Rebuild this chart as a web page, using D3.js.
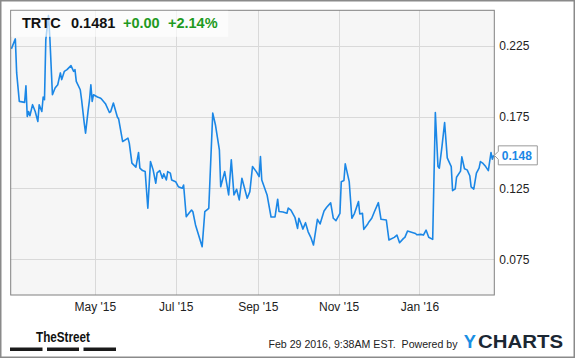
<!DOCTYPE html>
<html><head><meta charset="utf-8">
<script src="https://cdn.jsdelivr.net/npm/d3@7"></script>
<style>html,body{margin:0;padding:0;background:#fff;}svg{display:block;font-family:Arial,'Liberation Sans',sans-serif;}</style>
</head><body><svg id="c" width="575" height="358"></svg>
<script>
const symbol = "TRTC";
const lastPrice = "0.1481";
const change = "+0.00";
const changePct = "+2.14%";
const lastLabel = "0.148";
const yTicks = [0.075, 0.125, 0.175, 0.225];
const xTickDates = ["2015-05-01","2015-07-01","2015-09-01","2015-11-01","2016-01-01"];
const xTickLabels = ["May '15","Jul '15","Sep '15","Nov '15","Jan '16"];
const dates = [
"2015-02-27","2015-03-02","2015-03-03","2015-03-05","2015-03-09","2015-03-10","2015-03-11","2015-03-12","2015-03-13","2015-03-15",
"2015-03-17","2015-03-19","2015-03-20","2015-03-22","2015-03-23","2015-03-24","2015-03-25","2015-03-27","2015-03-28","2015-03-30",
"2015-04-01","2015-04-03","2015-04-05","2015-04-06","2015-04-08","2015-04-10","2015-04-13","2015-04-15","2015-04-16","2015-04-17",
"2015-04-20","2015-04-21","2015-04-23","2015-04-24","2015-04-26","2015-04-27","2015-04-28","2015-04-29","2015-04-30","2015-05-03",
"2015-05-05","2015-05-06","2015-05-09","2015-05-12","2015-05-13","2015-05-15","2015-05-18","2015-05-19","2015-05-22","2015-05-24",
"2015-05-26","2015-05-27","2015-05-29","2015-06-01","2015-06-03","2015-06-04","2015-06-06","2015-06-08","2015-06-09","2015-06-10",
"2015-06-12","2015-06-14","2015-06-16","2015-06-17","2015-06-19","2015-06-21","2015-06-22","2015-06-24","2015-06-25","2015-06-27",
"2015-06-28","2015-07-01","2015-07-03","2015-07-06","2015-07-07","2015-07-09","2015-07-11","2015-07-13","2015-07-14","2015-07-16",
"2015-07-21","2015-07-23","2015-07-26","2015-07-29","2015-07-31","2015-08-03","2015-08-04","2015-08-07","2015-08-10","2015-08-12",
"2015-08-14","2015-08-16","2015-08-18","2015-08-20","2015-08-24","2015-08-26","2015-08-28","2015-08-31","2015-09-02","2015-09-03",
"2015-09-04","2015-09-08","2015-09-11","2015-09-14","2015-09-16","2015-09-17","2015-09-20","2015-09-23","2015-09-24","2015-09-26",
"2015-09-29","2015-10-01","2015-10-02","2015-10-04","2015-10-05","2015-10-07","2015-10-09","2015-10-11","2015-10-13","2015-10-16",
"2015-10-18","2015-10-21","2015-10-23","2015-10-26","2015-10-28","2015-10-30","2015-11-02","2015-11-03","2015-11-05","2015-11-06",
"2015-11-09","2015-11-11","2015-11-13","2015-11-16","2015-11-17","2015-11-19","2015-11-20","2015-11-23","2015-11-24","2015-11-26",
"2015-11-28","2015-12-01","2015-12-03","2015-12-07","2015-12-09","2015-12-13","2015-12-15","2015-12-17","2015-12-20","2015-12-21",
"2015-12-23","2015-12-26","2015-12-29","2015-12-30","2016-01-02","2016-01-04","2016-01-06","2016-01-08","2016-01-11","2016-01-13",
"2016-01-15","2016-01-16","2016-01-18","2016-01-20","2016-01-22","2016-01-23","2016-01-25","2016-01-26","2016-01-28","2016-01-29",
"2016-02-01","2016-02-02","2016-02-04","2016-02-06","2016-02-08","2016-02-09","2016-02-11","2016-02-13","2016-02-15","2016-02-16",
"2016-02-18","2016-02-20","2016-02-22","2016-02-24","2016-02-25","2016-02-26"];
const prices = [
0.2229,0.2299,0.2060,0.1860,0.1853,0.1970,0.1754,0.1789,0.1759,0.1837,
0.1789,0.1719,0.1837,0.1789,0.1891,0.1872,0.2294,0.2463,0.2318,0.1907,
0.1954,0.1977,0.2060,0.2013,0.2071,0.2083,0.2111,0.2071,0.2083,0.2001,
0.1942,0.1872,0.1708,0.1637,0.1801,0.1872,0.1977,0.1860,0.1907,0.1891,
0.1884,0.1877,0.1844,0.1782,0.1789,0.1849,0.1750,0.1736,0.1578,0.1590,
0.1602,0.1567,0.1426,0.1398,0.1501,0.1391,0.1374,0.1367,0.1238,0.1109,
0.1437,0.1379,0.1285,0.1358,0.1374,0.1320,0.1351,0.1308,0.1367,0.1356,
0.1308,0.1296,0.1261,0.1250,0.1273,0.1050,0.1074,0.1097,0.1085,0.0992,
0.0839,0.1085,0.1109,0.1778,0.1696,0.1520,0.1261,0.1367,0.1203,0.1449,
0.1203,0.1243,0.1168,0.1320,0.1180,0.1226,0.1402,0.1365,0.1332,0.1473,
0.1308,0.1203,0.1048,0.1048,0.1173,0.1087,0.1083,0.1074,0.1111,0.1097,
0.1046,0.0968,0.1039,0.0992,0.0963,0.1008,0.0944,0.0905,0.0851,0.1032,
0.0999,0.1090,0.1116,0.1147,0.1039,0.1022,0.1074,0.1296,0.1304,0.1421,
0.1296,0.1039,0.1074,0.1156,0.1069,0.1074,0.0961,0.0999,0.1015,0.1039,
0.1085,0.1149,0.1032,0.1027,0.0886,0.0905,0.0921,0.0867,0.0898,0.0905,
0.0949,0.0941,0.0932,0.0923,0.0926,0.0921,0.0956,0.0906,0.0891,0.1782,
0.1402,0.1391,0.1543,0.1712,0.1463,0.1442,0.1402,0.1233,0.1246,0.1327,
0.1370,0.1470,0.1387,0.1379,0.1338,0.1259,0.1244,0.1356,0.1391,0.1437,
0.1424,0.1402,0.1374,0.1501,0.1454,0.1481];

const parse = d3.timeParse("%Y-%m-%d");
const data = dates.map((d,i)=>({date:parse(d), v:prices[i]}));

const svg = d3.select("#c");
const L = 10.7, T = 10.3, R = 494.3, B = 295;
const x = d3.scaleTime().domain([new Date(2015,1,26,12), new Date(2016,1,26,12)]).range([L, R]);
const y = d3.scaleLinear().domain([0.05, 0.25]).range([B, T]);

// outer frame
svg.append("rect").attr("x",0.75).attr("y",0.75).attr("width",573.5).attr("height",356.5)
  .attr("fill","#fff").attr("stroke","#8a8a8a").attr("stroke-width",1.5);

// plot background
svg.append("rect").attr("x",L).attr("y",T).attr("width",R-L).attr("height",B-T).attr("fill","#f6f6f6");

// grid
const g = svg.append("g");
g.selectAll(".hg").data(yTicks).join("line")
  .attr("x1",L).attr("x2",R).attr("y1",d=>Math.round(y(d))+0.5).attr("y2",d=>Math.round(y(d))+0.5)
  .attr("stroke","#d9d9d9").attr("stroke-width",1);
g.selectAll(".vg").data(xTickDates).join("line")
  .attr("y1",T).attr("y2",B).attr("x1",d=>Math.round(x(parse(d)))+0.5).attr("x2",d=>Math.round(x(parse(d)))+0.5)
  .attr("stroke","#d9d9d9").attr("stroke-width",1);

// line
svg.append("path").datum(data)
  .attr("d", d3.line().x(d=>x(d.date)).y(d=>y(d.v)))
  .attr("fill","none").attr("stroke","#1b87e6").attr("stroke-width",1.6).attr("stroke-linejoin","round");

// plot border
svg.append("rect").attr("x",L).attr("y",T).attr("width",R-L).attr("height",B-T)
  .attr("fill","none").attr("stroke","#808080").attr("stroke-width",1);

// y axis (right)
const yAxis = d3.axisRight(y).tickValues(yTicks).tickSize(0).tickPadding(5).tickFormat(d3.format(".3f"));
const ya = svg.append("g").attr("transform",`translate(${R},0)`).call(yAxis);
ya.select(".domain").remove();
ya.selectAll("text").attr("font-size","12px").attr("fill","#222").attr("font-family","Arial,'Liberation Sans',sans-serif");

// x axis
const xAxis = d3.axisBottom(x).tickValues(xTickDates.map(parse)).tickSize(0).tickPadding(7)
  .tickFormat((d,i)=>xTickLabels[i]);
const xa = svg.append("g").attr("transform",`translate(0,${B})`).call(xAxis);
xa.select(".domain").remove();
xa.selectAll("text").attr("font-size","12px").attr("fill","#222").attr("font-family","Arial,'Liberation Sans',sans-serif");

// header box
svg.append("rect").attr("x",L+0.5).attr("y",T+0.5).attr("width",217).attr("height",26)
  .attr("fill","#fff").attr("opacity",0.65);
const hdr = svg.append("g").attr("font-size","14.5px").attr("font-weight","bold");
hdr.append("text").attr("x",22).attr("y",28.3).attr("fill","#111").text(symbol);
hdr.append("text").attr("x",71).attr("y",28.3).attr("fill","#111").text(lastPrice);
hdr.append("text").attr("x",123).attr("y",28.3).attr("fill","#1f9a1f").text(change);
hdr.append("text").attr("x",168).attr("y",28.3).attr("fill","#1f9a1f").text(changePct);

// last value label
const last = data[data.length-1];
const ly = y(last.v);
const bx0 = R+4, bx1 = R+43, bh = 9.5;
svg.append("path")
  .attr("d",`M${R},${ly} L${bx0},${ly-4} L${bx0},${ly-bh} L${bx1},${ly-bh} L${bx1},${ly+bh} L${bx0},${ly+bh} L${bx0},${ly+4} Z`)
  .attr("fill","#fff").attr("stroke","#999").attr("stroke-width",1);
svg.append("text").attr("x",bx0+3.5).attr("y",ly+4.5).attr("font-size","12px").attr("font-weight","bold")
  .attr("fill","#1b87e6").text(lastLabel);

// footer
svg.append("text").attr("x",36).attr("y",341.5).attr("font-size","15px").attr("font-weight","bold")
  .attr("font-family","'Liberation Sans Narrow','Liberation Sans',Arial,sans-serif")
  .attr("textLength",54).attr("lengthAdjust","spacingAndGlyphs").attr("fill","#111").text("TheStreet");
[[10,42.5],[47,79],[83.5,116]].forEach(([a,b])=>{
  svg.append("rect").attr("x",a).attr("y",347.5).attr("width",b-a).attr("height",3.5).attr("fill","#1a1a1a");
});
svg.append("text").attr("x",268.5).attr("y",348).attr("font-size","10.6px").attr("fill","#222")
  .text("Feb 29 2016, 9:38AM EST.\u00a0 Powered by");
svg.append("text").attr("x",463.8).attr("y",348.3).attr("font-size","18px").attr("font-weight","bold")
  .attr("fill","#1a8fe3").attr("textLength",12.2).attr("lengthAdjust","spacingAndGlyphs").text("Y");
svg.append("text").attr("x",478).attr("y",348.3).attr("font-size","18px").attr("font-weight","bold")
  .attr("fill","#1b2733").attr("textLength",85).attr("lengthAdjust","spacingAndGlyphs").text("CHARTS");
</script></body></html>
